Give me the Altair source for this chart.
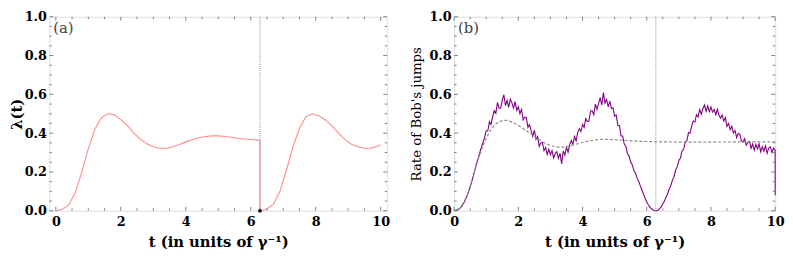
import altair as alt
import pandas as pd

TWO_PI = 6.283

# ---------------- panel (a): lambda(t) ----------------
lam_t = [0.0, 0.2, 0.4, 0.6, 0.8, 1.0, 1.2, 1.4, 1.6, 1.8,
         2.0, 2.2, 2.4, 2.6, 2.8, 3.0, 3.2, 3.4, 3.6, 3.8,
         4.0, 4.2, 4.4, 4.6, 4.8, 5.0, 5.2, 5.4, 5.6, 5.8,
         6.0, 6.2, 6.283,
         6.283, 6.3, 6.5, 6.7, 6.9, 7.1, 7.3, 7.5, 7.7, 7.9, 8.1,
         8.3, 8.5, 8.7, 8.9, 9.1, 9.3, 9.5, 9.7, 9.9, 10.0]
lam_v = [0.0, 0.008, 0.03, 0.095, 0.20, 0.32, 0.42, 0.48, 0.50, 0.495,
         0.47, 0.44, 0.40, 0.37, 0.345, 0.33, 0.322, 0.322, 0.33, 0.342,
         0.355, 0.366, 0.376, 0.383, 0.386, 0.386, 0.383, 0.379, 0.374, 0.37,
         0.367, 0.364, 0.362,
         0.0, 0.0, 0.009, 0.034, 0.10, 0.21, 0.33, 0.425, 0.485, 0.50, 0.49,
         0.468, 0.437, 0.40, 0.368, 0.343, 0.33, 0.322, 0.323, 0.333, 0.34]
dot_t = [6.283]
dot_v = [0.0]

# ---------------- panel (b): rate of Bob's jumps ----------------
rate_t = [round(0.05 * i, 2) for i in range(201)] + [10.0]
rate_v = [
    0.000, 0.001, 0.004, 0.009, 0.016, 0.026, 0.040, 0.056, 0.076, 0.097,
    0.122, 0.150, 0.180, 0.212, 0.245, 0.268, 0.300, 0.328, 0.352, 0.378,
    0.412, 0.412, 0.460, 0.445, 0.485, 0.516, 0.503, 0.558, 0.530, 0.528,
    0.570, 0.598, 0.542, 0.569, 0.533, 0.576, 0.556, 0.529, 0.563, 0.518,
    0.535, 0.500, 0.522, 0.468, 0.483, 0.480, 0.430, 0.444, 0.412, 0.383,
    0.415, 0.368, 0.383, 0.332, 0.350, 0.352, 0.310, 0.326, 0.290, 0.317,
    0.288, 0.310, 0.272, 0.295, 0.305, 0.270, 0.295, 0.242, 0.308, 0.287,
    0.327, 0.302, 0.340, 0.362, 0.343, 0.383, 0.360, 0.404, 0.423, 0.408,
    0.445, 0.430, 0.475, 0.460, 0.462, 0.514, 0.515, 0.495, 0.550, 0.523,
    0.553, 0.583, 0.545, 0.609, 0.555, 0.574, 0.535, 0.565, 0.527, 0.530,
    0.488, 0.493, 0.440, 0.439, 0.385, 0.385, 0.344, 0.333, 0.294, 0.283,
    0.251, 0.236, 0.207, 0.193, 0.168, 0.152, 0.128, 0.108, 0.085, 0.064,
    0.045, 0.031, 0.019, 0.010, 0.004, 0.001, 0.000, 0.003, 0.011, 0.020,
    0.036, 0.049, 0.070, 0.086, 0.113, 0.130, 0.158, 0.176, 0.210, 0.226,
    0.259, 0.272, 0.308, 0.317, 0.355, 0.360, 0.402, 0.400, 0.438, 0.462,
    0.458, 0.495, 0.484, 0.522, 0.498, 0.526, 0.545, 0.513, 0.540, 0.511,
    0.535, 0.508, 0.523, 0.495, 0.523, 0.492, 0.478, 0.494, 0.462, 0.480,
    0.435, 0.450, 0.418, 0.436, 0.400, 0.414, 0.377, 0.398, 0.395, 0.360,
    0.355, 0.372, 0.338, 0.353, 0.358, 0.322, 0.345, 0.312, 0.342, 0.319,
    0.345, 0.304, 0.330, 0.307, 0.334, 0.296, 0.323, 0.329, 0.300, 0.323,
    0.312, 0.08]
mean_t = [0, 0.2, 0.4, 0.6, 0.7, 0.8, 0.9, 1.0, 1.1, 1.2,
          1.3, 1.4, 1.5, 1.6, 1.7, 1.8, 2.0, 2.2, 2.4, 2.6,
          2.8, 3.0, 3.2, 3.4, 3.6, 3.8, 4.0, 4.2, 4.4, 4.6,
          4.8, 5.0, 5.4, 5.8, 6.2, 7.0, 8.0, 9.0, 10.0]
mean_v = [0, 0.015, 0.075, 0.18, 0.24, 0.29, 0.335, 0.372, 0.405, 0.43,
          0.447, 0.458, 0.465, 0.466, 0.463, 0.457, 0.44, 0.418, 0.395, 0.372,
          0.352, 0.337, 0.328, 0.328, 0.334, 0.343, 0.352, 0.36, 0.365, 0.368,
          0.368, 0.366, 0.362, 0.358, 0.356, 0.354, 0.354, 0.355, 0.355]

# ---------------- ticks ----------------
x_major = [0, 2, 4, 6, 8, 10]
x_minor = [0.5, 1, 1.5, 2.5, 3, 3.5, 4.5, 5, 5.5, 6.5, 7, 7.5, 8.5, 9, 9.5]
y_major = [0.0, 0.2, 0.4, 0.6, 0.8, 1.0]
y_minor = [0.05, 0.1, 0.15, 0.25, 0.3, 0.35, 0.45, 0.5, 0.55,
           0.65, 0.7, 0.75, 0.85, 0.9, 0.95]

FONT = "DejaVu Serif"
FRAME = "#808080"
H = 197


def axes(ytitle, ybold, ysize, ypad):
    xa = alt.Axis(values=x_major, format="d", title="t (in units of γ⁻¹)",
                  titleFont=FONT, titleFontSize=15, titleFontWeight="bold",
                  titleColor="black", labelFont=FONT, labelFontSize=13,
                  labelFontWeight="bold", labelColor="black", domain=False,
                  ticks=False, grid=False, labelPadding=5,
                  titlePadding=6, labelFlush=False)
    ya = alt.Axis(values=y_major, format=".1f", title=ytitle,
                  titleFont=FONT, titleFontSize=ysize,
                  titleFontWeight="bold" if ybold else "normal",
                  titleColor="black", labelFont=FONT, labelFontSize=13,
                  labelFontWeight="bold", labelColor="black", domain=False,
                  ticks=False, grid=False, labelPadding=3,
                  titlePadding=ypad, labelFlush=False)
    return xa, ya


def frame_ticks(xs, ys, xa, ya, W):
    layers = []
    for vals, ln in ((x_major, 4), (x_minor, 2.5)):
        d = pd.DataFrame({"t": vals})
        enc_x = alt.X("t:Q", scale=xs, axis=xa)
        layers.append(alt.Chart(d).mark_rule(color=FRAME, strokeWidth=1).encode(
            x=enc_x, y=alt.value(H), y2=alt.value(H - ln)))
        layers.append(alt.Chart(d).mark_rule(color=FRAME, strokeWidth=1).encode(
            x=enc_x, y=alt.value(0), y2=alt.value(ln)))
    for vals, ln in ((y_major, 4), (y_minor, 2.5)):
        d = pd.DataFrame({"v": vals})
        enc_y = alt.Y("v:Q", scale=ys, axis=ya)
        layers.append(alt.Chart(d).mark_rule(color=FRAME, strokeWidth=1).encode(
            y=enc_y, x=alt.value(0), x2=alt.value(ln)))
        layers.append(alt.Chart(d).mark_rule(color=FRAME, strokeWidth=1).encode(
            y=enc_y, x=alt.value(W), x2=alt.value(W - ln)))
    return layers


def vline(xs, ys, xa, ya):
    d = pd.DataFrame({"t": [TWO_PI], "v": [0.0], "b": [1.0]})
    return alt.Chart(d).mark_rule(color="#909090", strokeWidth=1,
                                  strokeDash=[1, 1]).encode(
        x=alt.X("t:Q", scale=xs, axis=xa),
        y=alt.Y("v:Q", scale=ys, axis=ya), y2="b:Q")


def tag(text):
    return alt.Chart(pd.DataFrame({"s": [text]})).mark_text(
        font=FONT, fontSize=15, color="#444", align="left", baseline="top").encode(
        text="s:N", x=alt.value(4), y=alt.value(4))


# ---------- left panel ----------
W1 = 343
xs1 = alt.Scale(domain=[-0.2, 10.2], nice=False, zero=False)
ys1 = alt.Scale(domain=[0, 1], nice=False)
xa1, ya1 = axes("λ(t)", True, 15, 0)
df_lam = pd.DataFrame({"t": lam_t, "v": lam_v, "i": range(len(lam_t))})
lam_line = alt.Chart(df_lam).mark_line(color="#ff8c8c", strokeWidth=1.1).encode(
    x=alt.X("t:Q", scale=xs1, axis=xa1),
    y=alt.Y("v:Q", scale=ys1, axis=ya1),
    order="i:Q")
dot = alt.Chart(pd.DataFrame({"t": dot_t, "v": dot_v})).mark_circle(
    color="black", size=14, opacity=1).encode(
    x=alt.X("t:Q", scale=xs1, axis=xa1), y=alt.Y("v:Q", scale=ys1, axis=ya1))
left = alt.layer(lam_line, vline(xs1, ys1, xa1, ya1), dot, tag("(a)"),
                 *frame_ticks(xs1, ys1, xa1, ya1, W1)).properties(width=W1, height=H)

# ---------- right panel ----------
W2 = 326
xs2 = alt.Scale(domain=[0, 10], nice=False, zero=False)
ys2 = alt.Scale(domain=[0, 1], nice=False)
xa2, ya2 = axes("Rate of Bob's jumps", False, 13.5, 5)
df_rate = pd.DataFrame({"t": rate_t, "v": rate_v, "i": range(len(rate_t))})
df_mean = pd.DataFrame({"t": mean_t, "v": mean_v})
rate_line = alt.Chart(df_rate).mark_line(color="#800080", strokeWidth=1.1).encode(
    x=alt.X("t:Q", scale=xs2, axis=xa2),
    y=alt.Y("v:Q", scale=ys2, axis=ya2),
    order="i:Q")
mean_line = alt.Chart(df_mean).mark_line(color="#8c8c8c", strokeWidth=1.2,
                                         strokeDash=[3, 2]).encode(
    x=alt.X("t:Q", scale=xs2, axis=xa2),
    y=alt.Y("v:Q", scale=ys2, axis=ya2))
right = alt.layer(rate_line, vline(xs2, ys2, xa2, ya2), mean_line, tag("(b)"),
                  *frame_ticks(xs2, ys2, xa2, ya2, W2)).properties(width=W2, height=H)

chart = alt.hconcat(left, right, spacing=19).configure_view(
    stroke=FRAME, strokeWidth=1).configure(padding=0)

chart.save("out.html", embed_options={"renderer": "svg", "actions": False})
